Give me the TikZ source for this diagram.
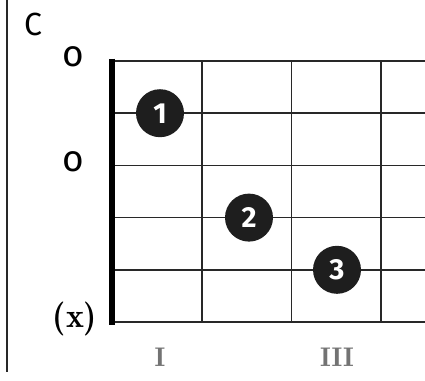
\documentclass[tikz,border=0pt]{standalone}
\usepackage{fontspec}
\usepackage{tikz}
\newfontfamily\chordfont{Fira Sans}
\newfontfamily\demifont{Latin Modern Roman Demi}
\definecolor{gridgray}{RGB}{40,40,40}
\definecolor{dotblack}{RGB}{30,30,30}
\definecolor{numgray}{RGB}{115,115,115}
\tikzset{
  fingerdot/.style={circle,fill=dotblack,minimum size=48pt,inner sep=0pt,
    text=white,font=\chordfont\bfseries\fontsize{29}{29}\selectfont},
  openmark/.style={font=\chordfont\fontsize{37}{37}\selectfont},
  fretnum/.style={text=numgray,font=\demifont\fontsize{27}{27}\selectfont},
}

\begin{document}
\begin{tikzpicture}[x=1pt,y=-1pt]
\useasboundingbox (0,0) rectangle (425,380);
% side rule and chord name:
\path[draw=gridgray,line width=1.5pt] (7,0) -- (7,372);
\node[font=\chordfont\fontsize{32}{32}\selectfont] (name) at (33,24) {C};
% strings:
\foreach \s in {0,...,5}
  \path[draw=gridgray,line width=1.6pt] (112,61+52.2*\s) -- (425,61+52.2*\s);
% frets:
\foreach \f in {1,2,3}
  \path[draw=gridgray,line width=1.6pt] (112.5+89.5*\f,61) -- (112.5+89.5*\f,322);
% nut:
\path[draw=black,line width=6pt] (112,58.5) -- (112,324.5);
% open and muted strings:
\node[openmark] (open1) at (73,57) {o};
\node[openmark] (open3) at (73,162) {o};
\node[font=\demifont\fontsize{34}{34}\selectfont] (mute6) at (75,319) {(x)};
% fingers:
\node[fingerdot] (finger1) at (160,113.2) {1};
\node[fingerdot] (finger2) at (249,217.6) {2};
\node[fingerdot] (finger3) at (337,269.8) {3};
% fret numbers:
\node[fretnum] (fretI) at (160,357) {I};
\node[fretnum] (fretIII) at (337,357) {III};
\end{tikzpicture}
\end{document}
